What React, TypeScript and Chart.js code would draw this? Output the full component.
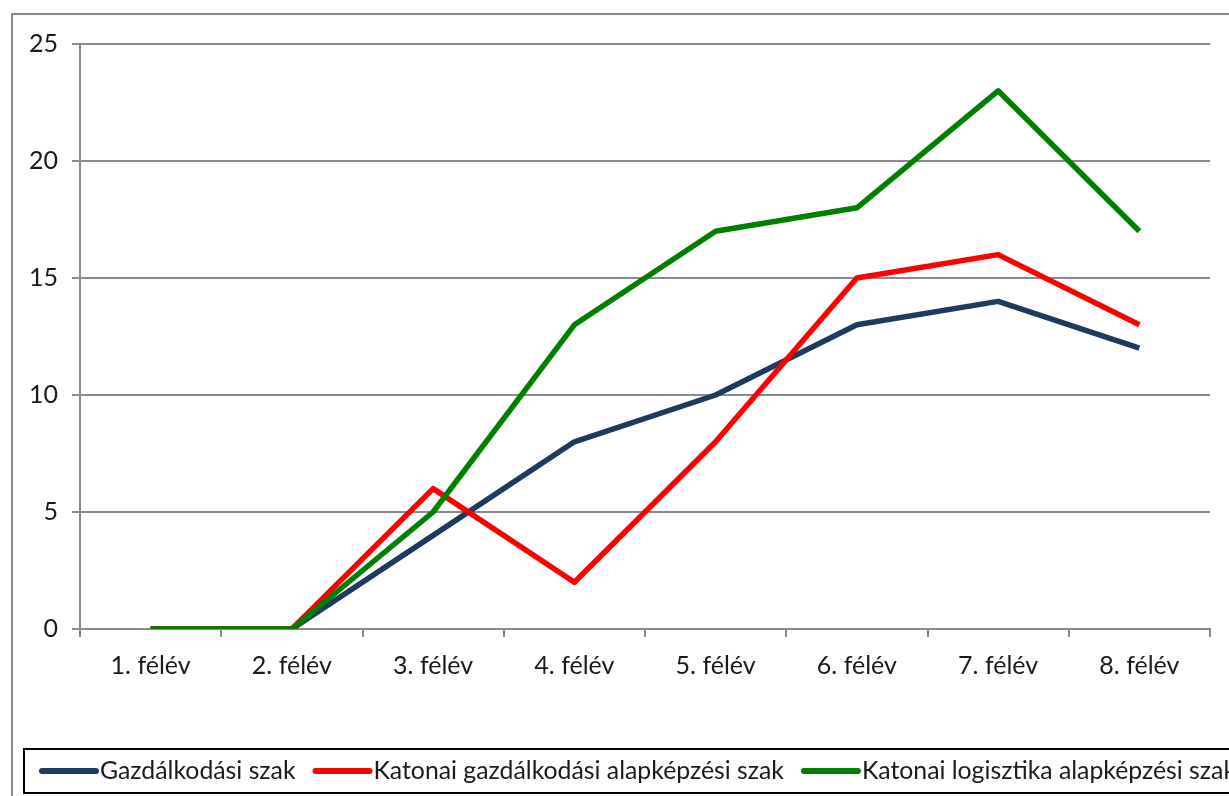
import React, { useEffect, useRef } from "react";
import { Chart, registerables } from "chart.js";

Chart.register(...registerables);

const categories = ["1. félév", "2. félév", "3. félév", "4. félév", "5. félév", "6. félév", "7. félév", "8. félév"];
const gazdalkodasi = [0, 0, 4, 8, 10, 13, 14, 12];
const katonaiGazd = [0, 0, 6, 2, 8, 15, 16, 13];
const katonaiLog = [0, 0, 5, 13, 17, 18, 23, 17];
const seriesLabels = ["Gazdálkodási szak", "Katonai gazdálkodási alapképzési szak", "Katonai logisztika alapképzési szak"];
const seriesColors = ["#1F3A60", "#FF0000", "#008000"];
const yTicks = [0, 5, 10, 15, 20, 25];

const FONT = "Lato, 'Open Sans', sans-serif";
const GRID = "#8A8A8A";

const framePlugin = {
  id: "frameAndLegend",
  afterDraw(chart: any) {
    const ctx = chart.ctx;
    ctx.save();
    // outer chart border
    ctx.strokeStyle = GRID;
    ctx.lineWidth = 2;
    ctx.strokeRect(12, 14, 1260, 800);
    // legend box
    ctx.strokeStyle = "#000000";
    ctx.lineWidth = 2;
    ctx.strokeRect(24, 749, 1240, 44);
    // legend items
    const y = 771;
    let x = 42;
    ctx.font = `24.8px ${FONT}`;
    ctx.textBaseline = "middle";
    ctx.textAlign = "left";
    chart.data.datasets.forEach((ds: any) => {
      ctx.strokeStyle = ds.borderColor;
      ctx.lineWidth = 6;
      ctx.lineCap = "round";
      ctx.beginPath();
      ctx.moveTo(x, y);
      ctx.lineTo(x + 54, y);
      ctx.stroke();
      ctx.fillStyle = "#1A1A1A";
      ctx.fillText(ds.label, x + 58, y);
      x += 58 + ctx.measureText(ds.label).width + 20;
    });
    ctx.restore();
  },
};

export default function App() {
  const ref = useRef<HTMLCanvasElement | null>(null);
  useEffect(() => {
    if (!ref.current) return;
    const data = [gazdalkodasi, katonaiGazd, katonaiLog];
    const orders = [2, 1, 0];
    const chart = new Chart(ref.current, {
      type: "line",
      data: {
        labels: categories,
        datasets: data.map((d, i) => ({
          label: seriesLabels[i],
          data: d,
          borderColor: seriesColors[i],
          backgroundColor: seriesColors[i],
          borderWidth: 5.5,
          pointRadius: 0,
          tension: 0,
          order: orders[i],
          borderJoinStyle: "round" as const,
        })),
      },
      options: {
        responsive: false,
        animation: false,
        layout: { padding: { left: 0, top: 44, right: 19, bottom: 0 } },
        plugins: { legend: { display: false }, tooltip: { enabled: false } },
        scales: {
          x: {
            type: "category",
            offset: true,
            grid: {
              offset: true,
              drawOnChartArea: false,
              drawTicks: true,
              tickLength: 8,
              color: GRID,
              lineWidth: 2,
            },
            border: { display: true, color: GRID, width: 2 },
            ticks: { font: { family: FONT, size: 25 }, color: "#1A1A1A", padding: 14, maxRotation: 0 },
            afterFit: (s: any) => {
              s.height = 167;
            },
          },
          y: {
            min: 0,
            max: 25,
            afterBuildTicks: (s: any) => {
              s.ticks = yTicks.map((v) => ({ value: v }));
            },
            grid: { color: GRID, lineWidth: 2, tickLength: 8, drawTicks: true },
            border: { display: true, color: GRID, width: 2 },
            ticks: { font: { family: FONT, size: 25 }, color: "#1A1A1A", padding: 14 },
            afterFit: (s: any) => {
              s.width = 80;
            },
          },
        },
      },
      plugins: [framePlugin],
    });
    return () => chart.destroy();
  }, []);
  return (
    <div style={{ position: "absolute", left: 0, top: 0, width: 1229, height: 796, background: "#fff" }}>
      <canvas ref={ref} width={1229} height={796} style={{ display: "block" }} />
    </div>
  );
}
